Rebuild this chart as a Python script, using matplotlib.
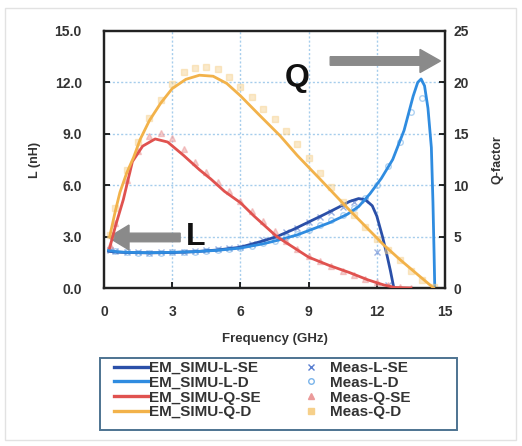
import matplotlib
matplotlib.use("Agg")
import matplotlib.pyplot as plt
from matplotlib.lines import Line2D
from matplotlib.patches import Rectangle, FancyArrow

plt.rcParams['font.family'] = ['Liberation Sans', 'DejaVu Sans']

# ---- simulated curves ----
f_lse = [0.2, 0.5, 1, 2, 3, 4, 5, 6, 7, 7.6, 8.3, 9, 9.7, 10.3, 10.8, 11.2, 11.5, 11.8, 12.0, 12.25, 12.45, 12.6, 12.75]
L_se = [2.15, 2.1, 2.07, 2.05, 2.07, 2.12, 2.22, 2.38, 2.75, 3.0, 3.4, 3.85, 4.3, 4.7, 5.05, 5.22, 5.15, 4.8, 4.2, 3.0, 1.9, 1.0, 0.0]

f_ld = [0.2, 0.5, 1, 2, 3, 4, 5, 6, 7, 7.75, 8.5, 9.1, 9.9, 10.7, 11.2, 11.7, 12.2, 12.7, 13.2, 13.6, 13.8, 13.95, 14.1, 14.25, 14.4, 14.47, 14.52, 14.55]
L_d = [2.2, 2.12, 2.08, 2.06, 2.08, 2.12, 2.2, 2.33, 2.58, 2.82, 3.1, 3.4, 3.8, 4.3, 4.75, 5.5, 6.4, 7.5, 9.2, 11.2, 12.0, 12.2, 11.8, 10.5, 8.2, 5.0, 2.0, 0.0]

f_qse = [0.25, 0.5, 0.85, 1.25, 1.7, 2.25, 2.8, 3.5, 4.2, 4.7, 5.3, 6.0, 6.6, 7.2, 7.6, 8.3, 9.0, 9.9, 10.8, 11.6, 12.3, 12.8, 13.5]
Q_se = [3.9, 6.0, 8.6, 12.3, 13.8, 14.5, 14.2, 12.9, 11.5, 10.6, 9.4, 8.3, 7.0, 5.8, 5.0, 4.0, 3.0, 2.2, 1.5, 0.8, 0.3, 0.05, 0.0]

f_qd = [0.25, 0.5, 0.7, 1.0, 1.3, 1.6, 2.0, 2.5, 3.0, 3.6, 4.2, 4.8, 5.4, 6.0, 6.8, 7.75, 8.5, 9.5, 10.7, 11.5, 12.3, 13.0, 13.8, 14.5]
Q_d = [5.0, 7.5, 9.3, 11.2, 12.7, 14.5, 16.3, 18.0, 19.4, 20.3, 20.7, 20.6, 19.9, 18.7, 16.9, 14.8, 12.9, 10.6, 7.8, 6.0, 4.2, 2.8, 1.3, 0.0]

# ---- measured points ----
f_meas = [0.25, 0.5, 1.0, 1.5, 2.0, 2.5, 3.0, 3.5, 4.0, 4.5, 5.0, 5.5, 6.0, 6.5, 7.0,
          7.5, 8.0, 8.5, 9.0, 9.5, 10.0, 10.5, 11.0, 11.5, 12.0, 12.5, 13.0, 13.5, 14.0, 14.5]
mL_se = [2.2, 2.15, 2.1, 2.08, 2.05, 2.08, 2.1, 2.12, 2.15, 2.2, 2.25, 2.32, 2.42, 2.58, 2.78,
         2.98, 3.25, 3.52, 3.85, 4.15, 4.45, 4.75, 5.0, 5.15, 2.1, 0.2]
mL_d = [2.25, 2.15, 2.1, 2.07, 2.05, 2.06, 2.08, 2.1, 2.13, 2.17, 2.22, 2.28, 2.36, 2.46, 2.6,
        2.75, 2.95, 3.15, 3.4, 3.65, 3.95, 4.25, 4.65, 5.25, 6.0, 7.1, 8.5, 10.3, 11.1]
mQ_se = [4.2, 6.3, 10.5, 13.3, 14.8, 15.1, 14.6, 13.5, 12.3, 11.3, 10.3, 9.4, 8.5, 7.5, 6.5,
         5.5, 4.6, 3.8, 3.1, 2.6, 2.1, 1.7, 1.3, 0.9, 0.6, 0.3, 0.1, 0.0]
mQ_d = [5.2, 7.8, 11.5, 14.2, 16.5, 18.3, 19.8, 21.0, 21.4, 21.5, 21.3, 20.5, 19.6, 18.6, 17.4,
        16.4, 15.3, 14.0, 12.6, 11.2, 9.8, 8.4, 7.1, 5.9, 4.8, 3.7, 2.7, 1.7, 0.8, 0.1]

x_ticks = [0, 3, 6, 9, 12, 15]
yL_ticks = [0, 3, 6, 9, 12, 15]
yQ_ticks = [0, 5, 10, 15, 20, 25]

c_lse = '#2a4fa8'
c_ld = '#2f8ce0'
c_qse = '#e0524f'
c_qd = '#f2b24a'
cm_lse = '#5a7fd0'
cm_ld = '#7ab4ea'
cm_qse = '#eb9a9a'
cm_qd = '#f6d08a'

fig = plt.figure(figsize=(5.22, 4.46), dpi=100)
fig.patches.append(Rectangle((5/522, 6/446), 511/522, 432/446, transform=fig.transFigure,
                             fill=False, edgecolor='#e2e2e2', linewidth=1))
ax = fig.add_axes([104/522, 1-288/446, 341/522, 257/446])
ax2 = ax.twinx()

# measured points
ax.plot(f_meas[:len(mL_se)], mL_se, linestyle='none', marker='x', ms=4, mew=1, color=cm_lse, alpha=0.6, zorder=2)
ax.plot(f_meas[:len(mL_d)], mL_d, linestyle='none', marker='o', ms=4, mew=1, mfc='none', color=cm_ld, alpha=0.6, zorder=2)
ax2.plot(f_meas[:len(mQ_se)], mQ_se, linestyle='none', marker='^', ms=4, color=cm_qse, alpha=0.5, zorder=2)
ax2.plot(f_meas[:len(mQ_d)], mQ_d, linestyle='none', marker='s', ms=4, color=cm_qd, alpha=0.45, zorder=2)

# simulated lines
ax.plot(f_lse, L_se, color=c_lse, lw=2.0, zorder=3)
ax.plot(f_ld, L_d, color=c_ld, lw=2.0, zorder=3)
ax2.plot(f_qse, Q_se, color=c_qse, lw=2.0, zorder=3)
ax2.plot(f_qd, Q_d, color=c_qd, lw=2.0, zorder=3)

ax.set_xlim(0, 15)
ax.set_ylim(0, 15)
ax2.set_ylim(0, 25)
ax.set_xticks(x_ticks)
ax.set_xticklabels([str(v) for v in x_ticks])
ax.set_yticks(yL_ticks)
ax.set_yticklabels(['%.1f' % v for v in yL_ticks])
ax2.set_yticks(yQ_ticks)
ax2.set_yticklabels([str(v) for v in yQ_ticks])

for a in (ax, ax2):
    for s in a.spines.values():
        s.set_linewidth(1.6)
        s.set_color('#222222')
tick_kw = dict(labelsize=10, labelcolor='#333333', direction='in', length=4, width=1.2)
ax.tick_params(axis='x', pad=12, **tick_kw)
ax.tick_params(axis='y', pad=16, **tick_kw)
ax2.tick_params(axis='y', pad=6, **tick_kw)
for lab in ax.get_xticklabels() + ax.get_yticklabels() + ax2.get_yticklabels():
    lab.set_fontweight('bold')

for v in [3, 6, 9, 12]:
    ax.axvline(v, color='#a6cdec', lw=1, ls=(0, (1.5, 1.5)), zorder=1)
    ax.axhline(v, color='#a6cdec', lw=1, ls=(0, (1.5, 1.5)), zorder=1)

ax.set_xlabel('Frequency (GHz)', fontsize=9.5, fontweight='bold', color='#333333', labelpad=10)
ax.set_ylabel('L (nH)', fontsize=9, fontweight='bold', color='#333333', labelpad=10)
ax2.set_ylabel('Q-factor', fontsize=9, fontweight='bold', color='#333333', labelpad=16)

# arrows and annotations
ax.add_patch(FancyArrow(3.35, 2.95, -3.15, 0, width=0.5, head_width=1.45, head_length=0.9,
                        length_includes_head=True, color='#8a8a8a', zorder=4, clip_on=False))
ax.add_patch(FancyArrow(9.95, 13.25, 4.85, 0, width=0.5, head_width=1.35, head_length=0.9,
                        length_includes_head=True, color='#8a8a8a', zorder=4, clip_on=False))
ax.text(4.05, 2.95, 'L', fontsize=23, fontweight='bold', ha='center', va='center', color='#111111', zorder=5)
ax.text(8.5, 12.25, 'Q', fontsize=23, fontweight='bold', ha='center', va='center', color='#111111', zorder=5)

handles = [
    Line2D([], [], color=c_lse, lw=2.4),
    Line2D([], [], color=c_ld, lw=2.4),
    Line2D([], [], color=c_qse, lw=2.4),
    Line2D([], [], color=c_qd, lw=2.4),
    Line2D([], [], ls='none', marker='x', ms=4, color=cm_lse),
    Line2D([], [], ls='none', marker='o', ms=4, mfc='none', color=cm_ld),
    Line2D([], [], ls='none', marker='^', ms=4, color=cm_qse),
    Line2D([], [], ls='none', marker='s', ms=4, color=cm_qd),
]
labels = ['EM_SIMU-L-SE', 'EM_SIMU-L-D', 'EM_SIMU-Q-SE', 'EM_SIMU-Q-D',
          'Meas-L-SE', 'Meas-L-D', 'Meas-Q-SE', 'Meas-Q-D']
fig.patches.append(Rectangle((100/522, 16/446), 357/522, 72/446, transform=fig.transFigure,
                             fill=False, edgecolor='#4d7391', linewidth=1.4))
leg = fig.legend(handles, labels, ncol=2, loc='upper left',
                 bbox_to_anchor=(114/522, 1-361/446),
                 prop={'size': 11, 'weight': 'bold'}, labelspacing=0.05,
                 handlelength=2.2, handletextpad=0.1, columnspacing=2.2,
                 borderpad=0, borderaxespad=0, frameon=False)
for t in leg.get_texts():
    t.set_color('#333333')

fig.savefig('out.png', dpi=100)
